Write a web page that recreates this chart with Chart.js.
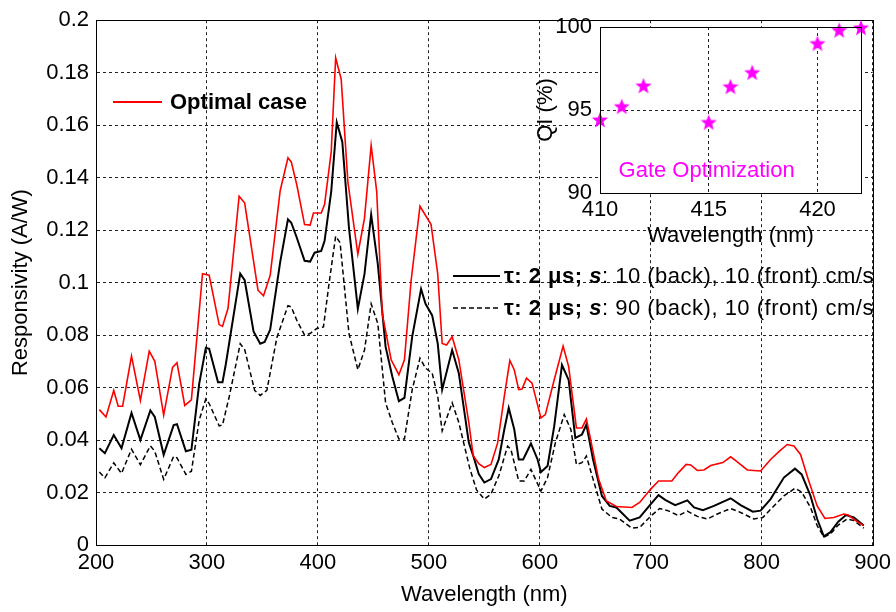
<!DOCTYPE html>
<html>
<head>
<meta charset="utf-8">
<script src="https://cdn.jsdelivr.net/npm/chart.js@4"></script>
<style>
  body { margin: 0; background: #fff; }
  #wrap { position: relative; width: 896px; height: 612px; }
  #main { position: absolute; left: 0; top: 0; }
  #inset { position: absolute; left: 520px; top: 0; }
</style>
</head>
<body>
<div id="wrap">
  <canvas id="main" width="896" height="612"></canvas>
  <canvas id="inset" width="376" height="260"></canvas>
</div>
<script>
// optimal case (red)
const optWl = [203,209,216,220,224,232,240,248,253,261,269,273,280,286,296,302,311,314,319,329,334,346,351,357,366,373,376,381,388,393,396,403,406,412,416,421,427,436,442,448,453,458,466,473,478,484,492,502,508,512,516,521,527,536,540,545,550,556,562,568,573,577,581,584,588,593,601,605,613,621,626,633,638,642,647,653,660,669,683,690,700,707,719,725,732,736,742,748,754,765,772,778,787,799,808,816,823,829,835,842,850,857,865,874,878,886,892];
const optR  = [0.0516,0.0488,0.0589,0.0529,0.0529,0.072,0.0551,0.0739,0.070,0.0495,0.0677,0.0695,0.0532,0.0553,0.1034,0.1028,0.084,0.0833,0.0902,0.1329,0.1303,0.0971,0.095,0.1028,0.135,0.1476,0.146,0.1372,0.1221,0.1219,0.1265,0.1265,0.1297,0.1498,0.1857,0.1775,0.1385,0.1108,0.1246,0.1523,0.1347,0.0882,0.0706,0.0649,0.0706,0.1007,0.1291,0.1221,0.1033,0.0768,0.0762,0.0794,0.0706,0.0467,0.034,0.031,0.0295,0.0307,0.0389,0.0566,0.0703,0.0667,0.0592,0.0594,0.0636,0.0617,0.0484,0.0497,0.063,0.0758,0.068,0.0446,0.0446,0.048,0.0377,0.0251,0.0168,0.0147,0.0143,0.0162,0.0213,0.0244,0.0244,0.0276,0.0307,0.0305,0.0284,0.0286,0.0303,0.0314,0.0336,0.0317,0.0286,0.0282,0.0326,0.0358,0.0383,0.0377,0.0345,0.025,0.0149,0.0101,0.0105,0.0118,0.0114,0.0089,0.0074];

// tau 2 us, s 10 back / 10 front (black solid)
const s10Wl = [203,208,216,223,232,240,249,253,261,270,273,281,286,293,299,302,310,314,317,330,334,342,348,352,357,366,373,376,381,388,393,397,403,406,412,417,422,428,436,442,448,454,461,467,473,478,485,493,497,503,508,512,521,527,536,540,545,550,556,563,568,572,577,581,585,592,598,601,607,613,620,626,632,638,642,648,656,663,669,681,690,700,707,713,722,733,739,747,757,772,781,792,799,808,820,830,836,844,850,856,862,869,876,883,892];
const s10R  = [0.0369,0.035,0.0419,0.0369,0.0503,0.040,0.0513,0.0488,0.0344,0.0457,0.046,0.0357,0.0363,0.0614,0.0752,0.0748,0.062,0.062,0.0689,0.1034,0.1009,0.0814,0.0767,0.0774,0.0821,0.1078,0.1241,0.1228,0.1171,0.1083,0.108,0.1114,0.1121,0.1158,0.1347,0.1611,0.1536,0.1209,0.090,0.1033,0.1259,0.107,0.0756,0.0643,0.0548,0.0561,0.0794,0.0976,0.0919,0.0875,0.0768,0.0592,0.0743,0.0655,0.0391,0.034,0.027,0.0238,0.0251,0.0326,0.044,0.0522,0.044,0.0326,0.0326,0.0387,0.0326,0.0278,0.0301,0.0453,0.0686,0.0629,0.0408,0.0421,0.0459,0.0326,0.0187,0.0149,0.0143,0.0093,0.0105,0.0156,0.019,0.0172,0.0152,0.017,0.0143,0.0133,0.0149,0.0178,0.0152,0.0127,0.0131,0.0175,0.0257,0.0291,0.0269,0.0187,0.0099,0.0033,0.0049,0.0089,0.0114,0.0105,0.0074];

// tau 2 us, s 90 back / 10 front (black dashed)
const s90Wl = [203,208,216,223,232,240,249,253,261,270,273,281,286,293,299,302,311,314,320,330,334,343,348,354,363,373,376,381,388,393,399,405,410,416,420,428,436,442,448,454,461,467,473,478,485,492,497,503,508,512,521,527,537,543,550,556,563,571,574,581,586,592,601,607,614,622,628,633,638,642,648,656,665,672,683,690,700,708,716,725,733,742,751,760,772,781,793,801,811,820,830,836,844,850,856,862,869,877,883,892];
const s90R  = [0.0278,0.0256,0.0313,0.0273,0.0365,0.0306,0.0378,0.0357,0.025,0.0338,0.0332,0.0269,0.0281,0.0476,0.0557,0.0539,0.0454,0.0457,0.0564,0.0767,0.0745,0.0589,0.057,0.0589,0.079,0.0912,0.0907,0.0856,0.080,0.0806,0.0825,0.0831,0.0995,0.1177,0.1152,0.0806,0.0668,0.0743,0.0919,0.0844,0.0542,0.0467,0.0404,0.0404,0.0592,0.0712,0.0674,0.0655,0.0567,0.0435,0.0542,0.0467,0.029,0.021,0.0175,0.0194,0.0263,0.0377,0.0364,0.0244,0.0244,0.0288,0.0206,0.0257,0.0389,0.0497,0.044,0.0307,0.0314,0.0339,0.0251,0.0137,0.0105,0.0099,0.0064,0.0067,0.011,0.0139,0.013,0.0112,0.0129,0.0109,0.0099,0.0118,0.0139,0.0124,0.0099,0.0105,0.0149,0.0187,0.0216,0.0202,0.0143,0.0074,0.003,0.0042,0.0076,0.0099,0.0093,0.0064];

// inset: gate optimization
const insetWl = [410,411,412,415,416,417,420,421,422];
const insetQi = [94.4,95.2,96.45,94.25,96.4,97.25,99.0,99.8,99.95];

const xTicks = [200,300,400,500,600,700,800,900];
const yTicks = [0,0.02,0.04,0.06,0.08,0.1,0.12,0.14,0.16,0.18,0.2];

const FONT = '"Liberation Sans", Arial, sans-serif';
const f22 = { family: FONT, size: 22 };

function pts(xs, ys) {
  return xs.map((x, i) => ({ x: x, y: ys[i] }));
}

// full box round the plot area
const frame = {
  id: 'frame',
  beforeDraw(chart, args, opts) {
    if (!opts.fill) return;
    const a = chart.chartArea;
    chart.ctx.save();
    chart.ctx.fillStyle = opts.fill;
    chart.ctx.fillRect(a.left, a.top, a.right - a.left, a.bottom - a.top);
    chart.ctx.restore();
  },
  afterDraw(chart) {
    const a = chart.chartArea;
    const ctx = chart.ctx;
    ctx.save();
    ctx.strokeStyle = '#000';
    ctx.lineWidth = 1;
    ctx.strokeRect(Math.round(a.left) + 0.5, Math.round(a.top) + 0.5,
      Math.round(a.right - a.left), Math.round(a.bottom - a.top));
    ctx.restore();
  }
};

// text in several fonts on one line
function richText(ctx, parts, x, y) {
  ctx.textBaseline = 'middle';
  ctx.textAlign = 'left';
  parts.forEach(p => {
    ctx.font = p[1] + ' 22px ' + FONT;
    ctx.fillText(p[0], x, y);
    x += ctx.measureText(p[0]).width;
  });
}

const legends = {
  id: 'legends',
  afterDraw(chart) {
    const ctx = chart.ctx;
    ctx.save();
    ctx.fillStyle = '#000';
    // Optimal case
    ctx.strokeStyle = '#ff0000';
    ctx.lineWidth = 2;
    ctx.beginPath(); ctx.moveTo(113, 102); ctx.lineTo(162, 102); ctx.stroke();
    richText(ctx, [['Optimal case', 'bold']], 170, 103);
    // solid
    ctx.letterSpacing = '0.5px';
    ctx.strokeStyle = '#000';
    ctx.lineWidth = 2;
    ctx.beginPath(); ctx.moveTo(453, 276); ctx.lineTo(500, 276); ctx.stroke();
    richText(ctx, [['τ: 2 μs; ', 'bold'], ['s', 'italic bold'], [': 10 (back), 10 (front) cm/s', 'normal']], 504, 277);
    // dashed
    ctx.lineWidth = 1.5;
    ctx.setLineDash([5, 3]);
    ctx.beginPath(); ctx.moveTo(453, 308); ctx.lineTo(500, 308); ctx.stroke();
    ctx.setLineDash([]);
    richText(ctx, [['τ: 2 μs; ', 'bold'], ['s', 'italic bold'], [': 90 (back), 10 (front) cm/s', 'normal']], 504, 309);
    ctx.restore();
  }
};

new Chart(document.getElementById('main'), {
  type: 'line',
  data: {
    datasets: [{
      data: pts(optWl, optR),
      borderColor: '#ff0000',
      borderWidth: 1.6
    }, {
      data: pts(s10Wl, s10R),
      borderColor: '#000',
      borderWidth: 2
    }, {
      data: pts(s90Wl, s90R),
      borderColor: '#000',
      borderWidth: 1.5,
      borderDash: [5, 3]
    }]
  },
  options: {
    responsive: false,
    animation: false,
    layout: { padding: { top: 16, right: 19, left: 0, bottom: 0 } },
    elements: { point: { radius: 0 }, line: { tension: 0 } },
    plugins: { legend: { display: false }, tooltip: { enabled: false }, frame: {} },
    scales: {
      x: {
        type: 'linear', min: 200, max: 900,
        afterBuildTicks: s => { s.ticks = xTicks.map(v => ({ value: v })); },
        ticks: { color: '#000', font: f22, padding: 5, maxRotation: 0 },
        grid: { color: '#222', drawTicks: false },
        border: { color: '#000', dash: [3, 3] },
        title: { display: true, text: 'Wavelength (nm)', color: '#000', font: f22, padding: { top: 0, bottom: 4 } },
        afterFit: s => { s.height = 67; }
      },
      y: {
        min: 0, max: 0.2,
        afterBuildTicks: s => { s.ticks = yTicks.map(v => ({ value: v })); },
        ticks: { color: '#000', font: f22, padding: 7, callback: v => String(+v.toFixed(2)) },
        grid: { color: '#222', drawTicks: false },
        border: { color: '#000', dash: [3, 3] },
        title: { display: true, text: 'Responsivity (A/W)', color: '#000', font: f22, padding: { top: 8, bottom: 0 } },
        afterFit: s => { s.width = 96; }
      }
    }
  },
  plugins: [frame, legends]
});

// filled five point star for the inset markers
function starImage() {
  const c = document.createElement('canvas');
  c.width = 18; c.height = 18;
  const g = c.getContext('2d');
  g.fillStyle = '#ff00ff';
  g.beginPath();
  for (let i = 0; i < 10; i++) {
    const r = i % 2 ? 3.6 : 8.5;
    const a = -Math.PI / 2 + i * Math.PI / 5;
    g.lineTo(9 + r * Math.cos(a), 9.5 + r * Math.sin(a));
  }
  g.closePath();
  g.fill();
  return c;
}

const gateLabel = {
  id: 'gateLabel',
  afterDatasetsDraw(chart) {
    const ctx = chart.ctx;
    const x = chart.scales.x, y = chart.scales.y;
    ctx.save();
    ctx.fillStyle = '#ff00ff';
    ctx.font = '22px ' + FONT;
    ctx.textAlign = 'center';
    ctx.textBaseline = 'middle';
    ctx.fillText('Gate Optimization', x.getPixelForValue(414.9), y.getPixelForValue(91.3));
    ctx.restore();
  }
};

new Chart(document.getElementById('inset'), {
  type: 'scatter',
  data: {
    datasets: [{
      data: pts(insetWl, insetQi),
      pointStyle: starImage(),
      pointRadius: 9,
      showLine: false,
      clip: false
    }]
  },
  options: {
    responsive: false,
    animation: false,
    layout: { padding: { top: 27, right: 35, left: 0, bottom: 0 } },
    plugins: { legend: { display: false }, tooltip: { enabled: false }, frame: { fill: '#fff' } },
    scales: {
      x: {
        type: 'linear', min: 410, max: 422,
        ticks: { stepSize: 5, includeBounds: false, color: '#000', font: f22, padding: 4, maxRotation: 0 },
        grid: { color: '#222', drawTicks: false },
        border: { color: '#000', dash: [3, 3] },
        title: { display: true, text: 'Wavelength (nm)', color: '#000', font: f22, padding: { top: 0, bottom: 11 } },
        afterFit: s => { s.height = 67; }
      },
      y: {
        min: 90, max: 100,
        ticks: { stepSize: 5, color: '#000', font: f22, padding: 8 },
        grid: { color: '#222', drawTicks: false },
        border: { color: '#000', dash: [3, 3] },
        title: { display: true, text: 'QI (%)', color: '#000', font: f22, padding: { top: 13, bottom: 0 } },
        afterFit: s => { s.width = 80; }
      }
    }
  },
  plugins: [frame, gateLabel]
});
</script>
</body>
</html>
